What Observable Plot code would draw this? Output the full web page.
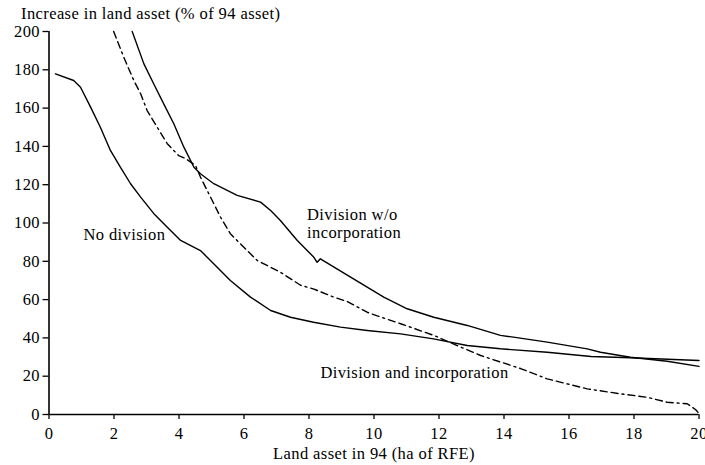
<!DOCTYPE html>
<html>
<head>
<meta charset="utf-8">
<script src="https://cdn.jsdelivr.net/npm/d3@7"></script>
<script src="https://cdn.jsdelivr.net/npm/@observablehq/plot@0.6"></script>
<style>
  html, body { margin: 0; padding: 0; background: white; overflow: hidden; }
</style>
</head>
<body>
<div id="chart"></div>
<script>
// ---- Data ----
const noDivX = [0.2, 0.76, 0.97, 1.28, 1.58, 1.89, 2.2, 2.51, 2.82, 3.22, 3.64, 4.05, 4.66, 5.06, 5.58, 6.2, 6.82, 7.43, 8.14, 8.97, 9.79, 10.82, 11.83, 12.87, 13.89, 15.33, 16.68, 17.89, 20];
const noDivY = [177.9, 174.4, 170.9, 160.5, 150.0, 137.9, 129.1, 120.5, 113.5, 105.0, 97.8, 90.9, 85.6, 78.9, 70.0, 61.3, 54.3, 50.8, 48.2, 45.6, 43.9, 42.1, 39.5, 36.0, 34.3, 32.5, 30.3, 29.6, 28.2];

const divWoX = [2.56, 2.92, 3.22, 3.53, 3.84, 4.15, 4.46, 4.66, 5.07, 5.79, 6.51, 6.82, 7.12, 7.64, 8.15, 8.25, 8.35, 9.28, 10.3, 11.02, 11.84, 12.87, 13.89, 14.29, 15.33, 16.56, 16.97, 17.89, 19.02, 20];
const divWoY = [200, 183.1, 172.7, 162.2, 151.8, 139.6, 129.1, 125.7, 120.5, 114.4, 110.9, 106.5, 101.3, 90.9, 82.1, 79.5, 81.3, 71.7, 61.3, 55.2, 50.8, 46.5, 41.3, 40.4, 37.8, 34.3, 32.5, 29.9, 27.8, 25.1];

const divIncX = [1.99, 2.3, 2.61, 2.82, 3.02, 3.33, 3.64, 3.99, 4.2, 4.51, 4.66, 4.97, 5.28, 5.58, 6.1, 6.41, 7.12, 7.74, 8.15, 8.76, 9.18, 9.79, 10.1, 10.82, 11.84, 12.56, 13.28, 14.51, 15.33, 16.56, 17.58, 18.41, 19.02, 19.64, 19.9, 20];
const divIncY = [200, 186.6, 174.4, 167.5, 158.7, 150.0, 141.4, 135.2, 133.7, 130.0, 124.0, 113.5, 103.0, 94.4, 85.6, 80.4, 74.3, 67.5, 65.5, 61.3, 59.0, 53.4, 51.5, 47.4, 41.3, 36.0, 30.8, 24.0, 18.6, 13.4, 10.8, 9.0, 6.4, 5.6, 2.5, 0.5];

const xTicks = [0, 2, 4, 6, 8, 10, 12, 14, 16, 18, 20];
const yTicks = [0, 20, 40, 60, 80, 100, 120, 140, 160, 180, 200];

const labelTexts = ["No division", "Division w/o\nincorporation", "Division and incorporation"];
const labelX = [1.06, 7.94, 8.35];
const labelY = [94, 100, 22.1];

const yTitle = "Increase in land asset (% of 94 asset)";
const xTitle = "Land asset in 94 (ha of RFE)";

// ---- Tables built from the arrays ----
const toRows = (xs, ys) => xs.map((x, i) => ({x, y: ys[i]}));
const noDiv = toRows(noDivX, noDivY);
const divWo = toRows(divWoX, divWoY);
const divInc = toRows(divIncX, divIncY);
const labels = labelTexts.map((t, i) => ({text: t, x: labelX[i], y: labelY[i]}));

const chart = Plot.plot({
  width: 705,
  height: 465,
  marginLeft: 48.5,
  marginRight: 6.5,
  marginTop: 31,
  marginBottom: 51,
  x: {domain: [0, 20]},
  y: {domain: [0, 200]},
  style: {
    fontFamily: "'Liberation Serif', 'Times New Roman', serif",
    fontSize: "16.5px",
    letterSpacing: "0.4px",
    color: "black",
    background: "white",
    overflow: "visible"
  },
  marks: [
    Plot.axisX({ticks: xTicks, tickSize: 5, tickPadding: 8, label: null, tickFormat: d => String(d), strokeWidth: 1.3}),
    Plot.axisY({ticks: yTicks, tickSize: 6, tickPadding: 3, label: null, tickFormat: d => String(d), strokeWidth: 1.3}),
    Plot.ruleY([0], {stroke: "black", strokeWidth: 1.6}),
    Plot.ruleX([0], {y1: 0, y2: 200, stroke: "black", strokeWidth: 1.6}),
    Plot.line(noDiv, {x: "x", y: "y", stroke: "black", strokeWidth: 1.4}),
    Plot.line(divWo, {x: "x", y: "y", stroke: "black", strokeWidth: 1.4}),
    Plot.line(divInc, {x: "x", y: "y", stroke: "black", strokeWidth: 1.4, strokeDasharray: "7,4,7,4,2,4"}),
    Plot.text(labels, {x: "x", y: "y", text: "text", textAnchor: "start", lineAnchor: "middle", lineHeight: 1.12, fill: "black"}),
    Plot.text([yTitle], {text: d => d, frameAnchor: "top-left", dx: -28, dy: -18, textAnchor: "start", lineAnchor: "middle", fill: "black"}),
    Plot.text([xTitle], {text: d => d, frameAnchor: "bottom", dy: 39, lineAnchor: "middle", fill: "black"})
  ]
});
document.getElementById("chart").appendChild(chart);
</script>
</body>
</html>
